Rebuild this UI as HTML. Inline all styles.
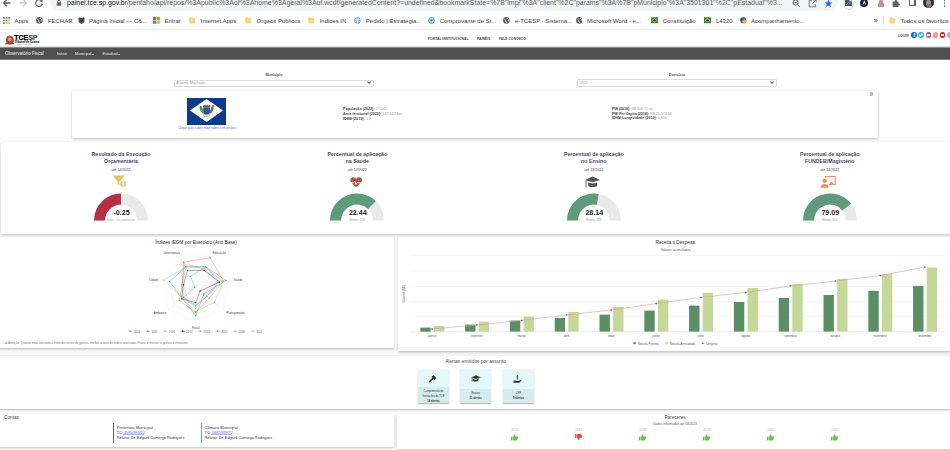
<!DOCTYPE html>
<html><head><meta charset="utf-8">
<style>
*{margin:0;padding:0;box-sizing:border-box}
html,body{width:950px;height:450px;overflow:hidden;background:#fff;font-family:"Liberation Sans",sans-serif;position:relative}
.a{position:absolute;white-space:nowrap;line-height:1}
.c{position:absolute;white-space:nowrap;line-height:1;transform:translateX(-50%)}
.card{position:absolute;background:#fff;box-shadow:0 1px 3px rgba(0,0,0,.27);border-radius:1.2px}
.bm{position:absolute;top:17.6px;font-size:6px;color:#3c4043;line-height:1}
.fold{position:absolute;top:17.2px;width:6px;height:6.3px;background:#f8d775;border-radius:0.8px}
</style></head><body>
<div class="a" style="left:0;top:348px;width:950px;height:8px;background:#f8f8f8"></div>
<!-- ============ BROWSER CHROME ============ -->
<div class="a" style="left:0;top:0;width:950px;height:29px;background:#fff"></div>
<!-- back / fwd / reload -->
<svg class="a" style="left:2px;top:-2px" width="10" height="10" viewBox="0 0 10 10"><path d="M8.5 5H2.2M5 1.6L1.6 5 5 8.4" stroke="#5f6368" stroke-width="1.3" fill="none"/></svg>
<svg class="a" style="left:18px;top:-2px" width="10" height="10" viewBox="0 0 10 10"><path d="M1.5 5H7.8M5 1.6L8.4 5 5 8.4" stroke="#c4c7cb" stroke-width="1.3" fill="none"/></svg>
<svg class="a" style="left:34px;top:-2px" width="10" height="10" viewBox="0 0 10 10"><path d="M8 3.2A3.4 3.4 0 1 0 8.4 6" stroke="#5f6368" stroke-width="1.2" fill="none"/><path d="M8.6 0.8V3.8H5.6z" fill="#5f6368"/></svg>
<!-- omnibox -->
<div class="a" style="left:49.5px;top:-12px;width:788px;height:23.1px;background:#f1f3f4;border-radius:11px"></div>
<svg class="a" style="left:56px;top:0px" width="6" height="6" viewBox="0 0 6 6"><rect x="0.8" y="2.3" width="4.4" height="3.4" rx=".5" fill="#5f6368"/><path d="M1.8 2.5V1.6a1.2 1.2 0 0 1 2.4 0v.9" stroke="#5f6368" stroke-width=".8" fill="none"/></svg>
<div class="a" style="left:67px;top:-0.5px;font-size:6.96px;color:#5f6368;letter-spacing:0"><span style="color:#202124">painel.tce.sp.gov.br</span>/pentaho/api/repos/%3Apublic%3Aof%3Ahome%3Ageral%3Aof.wcdf/generatedContent?=undefined&amp;bookmarkState=%7B"impl"%3A"client"%2C"params"%3A%7B"pMunicipio"%3A"3501301"%2C"pEstadual"%3...</div>
<!-- omnibox right icons -->
<svg class="a" style="left:792px;top:-1px" width="9" height="9" viewBox="0 0 9 9"><circle cx="3.6" cy="3.6" r="2.6" stroke="#5f6368" stroke-width="1" fill="none"/><path d="M5.5 5.5L8 8M2.4 3.6h2.4" stroke="#5f6368" stroke-width="1"/></svg>
<svg class="a" style="left:808px;top:-1.5px" width="9" height="9" viewBox="0 0 9 9"><path d="M4 1.6H1.2V7.8H7.4V5.2M4.2 4.8L7.8 1.2M5.4 1H8V3.6" stroke="#5f6368" stroke-width=".85" fill="none"/></svg>
<svg class="a" style="left:824px;top:-1.5px" width="9" height="9" viewBox="0 0 10 10"><path d="M5 0.6l1.3 2.9 3.1.3-2.4 2.1.7 3.1L5 7.4 2.3 9l.7-3.1L.6 3.8l3.1-.3z" fill="#1a73e8"/></svg>
<!-- extensions -->
<div class="a" style="left:842.6px;top:-1.6px;width:11.4px;height:12px;border-radius:50%;border:0.8px solid #dadce0;background:#fff"></div>
<svg class="a" style="left:844.6px;top:-1px" width="7.5" height="7" viewBox="0 0 7.5 7"><rect x="0" y="0" width="7.5" height="7" fill="#3f5670"/><path d="M1 6.2L3.5 3.6 5 4.6 7 2.2" stroke="#9ab" stroke-width=".7" fill="none"/><rect x="4.4" y="0" width="3.1" height="2.4" fill="#dde"/></svg>
<div class="a" style="left:860.3px;top:-1.2px;width:7.8px;height:8px;border-radius:50%;background:#14213d"></div>
<svg class="a" style="left:861.9px;top:0.2px" width="4.6" height="5" viewBox="0 0 4.6 5"><path d="M2.3.3L.5 4.6H1.5L2.3 2.6 3.1 4.6H4.1Z" fill="#fff"/></svg>
<div class="a" style="left:878.6px;top:-0.5px;width:4.8px;height:3.4px;background:#d98aa5;border-radius:1px 1px 0 0"></div>
<div class="a" style="left:878.1px;top:2.9px;width:5.6px;height:3.8px;background:#9aa1a8;border-radius:0 0 .8px .8px"></div>
<svg class="a" style="left:892.2px;top:-1.4px" width="8.5" height="8.5" viewBox="0 0 8.5 8.5"><path d="M.6 2.6H2.8V2.1A1.1 1.1 0 0 1 5 2.1V2.6H6.4V4.4H6.9A1.1 1.1 0 0 1 6.9 6.6H6.4V8H.6Z" fill="#5f6368"/></svg>
<div class="a" style="left:908.8px;top:-1px;width:7px;height:7.4px;border:0.9px solid #5f6368;border-right-width:2.4px;border-radius:.6px"></div>
<div class="a" style="left:922.9px;top:-2.6px;width:10.9px;height:10.9px;border-radius:50%;background:#3b302b;overflow:hidden"><div style="position:absolute;left:3.2px;top:2.4px;width:4.6px;height:6.5px;border-radius:50%;background:#a88f80"></div><div style="position:absolute;left:3.8px;top:6.6px;width:4.5px;height:4.5px;background:#777"></div></div>
<div class="a" style="left:943.9px;top:-0.8px;width:1.5px;height:1.5px;background:#5f6368;border-radius:50%;box-shadow:0 3px 0 #5f6368,0 6px 0 #5f6368"></div>
<!-- bookmarks bar -->
<svg class="a" style="left:2.8px;top:16.8px" width="7" height="7" viewBox="0 0 7 7"><rect x="0" y="0" width="1.7" height="1.7" fill="#ea4335"/><rect x="2.65" y="0" width="1.7" height="1.7" fill="#ea4335"/><rect x="5.3" y="0" width="1.7" height="1.7" fill="#ea4335"/><rect x="0" y="2.65" width="1.7" height="1.7" fill="#34a853"/><rect x="2.65" y="2.65" width="1.7" height="1.7" fill="#4285f4"/><rect x="5.3" y="2.65" width="1.7" height="1.7" fill="#fbbc05"/><rect x="0" y="5.3" width="1.7" height="1.7" fill="#34a853"/><rect x="2.65" y="5.3" width="1.7" height="1.7" fill="#fbbc05"/><rect x="5.3" y="5.3" width="1.7" height="1.7" fill="#fbbc05"/></svg>
<div class="bm" style="left:14.5px">Apps</div>
<svg class="a" style="left:36.3px;top:17px" width="6.8" height="6.8" viewBox="0 0 7 7"><circle cx="3.5" cy="3.5" r="3.4" fill="#5f6368"/><path d="M1.3 2.2c1 .2 1.6.9 1.4 1.6-.2.6.6 1 .9 1.5.2.4-.1.9-.3 1.2M4.6.6c-.3.6.1 1 .6 1.2.6.2.6.8.3 1.2-.4.6.3 1 .9.9" stroke="#fff" stroke-width=".7" fill="none"/></svg>
<div class="bm" style="left:47.8px">FECHAR</div>
<svg class="a" style="left:78.2px;top:16.8px" width="7" height="7.2" viewBox="0 0 7 7.2"><path d="M.3 1.2L1.5.3 3.5 1 5.5.3 6.7 1.2 6.3 5 3.5 7 .7 5Z" fill="#6b4a3a"/><path d="M2 2h3v2.4L3.5 5.4 2 4.4Z" fill="#2a3e7a"/><path d="M.8 5.2L3.5 6.6 6.2 5.2" stroke="#3a8a3a" stroke-width=".6" fill="none"/></svg>
<div class="bm" style="left:89px">Página Inicial — C&amp;...</div>
<svg class="a" style="left:152.8px;top:17px" width="6.8" height="6.8" viewBox="0 0 6 6"><rect x="0" y="0" width="2.8" height="2.8" fill="#f25022"/><rect x="3.2" y="0" width="2.8" height="2.8" fill="#7fba00"/><rect x="0" y="3.2" width="2.8" height="2.8" fill="#00a4ef"/><rect x="3.2" y="3.2" width="2.8" height="2.8" fill="#ffb900"/></svg>
<div class="bm" style="left:164.5px">Entrar</div>
<svg class="a" style="left:188.6px;top:17.1px" width="6.8" height="6.6" viewBox="0 0 6.8 6.6"><path d="M.2 .9C.2.5.5.2.9.2H2.6L3.3 1H5.9C6.3 1 6.6 1.3 6.6 1.7V5.8C6.6 6.2 6.3 6.4 5.9 6.4H.9C.5 6.4.2 6.2.2 5.8Z" fill="#f8d775"/></svg>
<div class="bm" style="left:200.8px">Internet Apps</div>
<svg class="a" style="left:244.6px;top:17.1px" width="6.8" height="6.6" viewBox="0 0 6.8 6.6"><path d="M.2 .9C.2.5.5.2.9.2H2.6L3.3 1H5.9C6.3 1 6.6 1.3 6.6 1.7V5.8C6.6 6.2 6.3 6.4 5.9 6.4H.9C.5 6.4.2 6.2.2 5.8Z" fill="#f8d775"/></svg>
<div class="bm" style="left:256.6px">Orgaos Publicos</div>
<svg class="a" style="left:307.6px;top:17.1px" width="6.8" height="6.6" viewBox="0 0 6.8 6.6"><path d="M.2 .9C.2.5.5.2.9.2H2.6L3.3 1H5.9C6.3 1 6.6 1.3 6.6 1.7V5.8C6.6 6.2 6.3 6.4 5.9 6.4H.9C.5 6.4.2 6.2.2 5.8Z" fill="#f8d775"/></svg>
<div class="bm" style="left:319.7px">Indices IN</div>
<svg class="a" style="left:354.3px;top:17px" width="6.8" height="6.8" viewBox="0 0 7 7"><circle cx="3.5" cy="3.5" r="3.3" fill="#6aa5e8"/><path d="M1 2.6H6M1 4.4H6M2.6 .8L3.5 6.2M4.4 .8L3.5 6.2" stroke="#fff" stroke-width=".55"/></svg>
<div class="bm" style="left:365.8px">Pedido | Estratégia...</div>
<svg class="a" style="left:428px;top:17px" width="6.8" height="6.8" viewBox="0 0 7 7"><circle cx="3.5" cy="3.5" r="3" fill="#fff" stroke="#2a8be0" stroke-width=".9"/><path d="M3.5 1.3V5.7M1.6 2.4L5.4 4.6M1.6 4.6L5.4 2.4" stroke="#2a8be0" stroke-width=".8"/></svg>
<div class="bm" style="left:439.7px">Comprovante de Si...</div>
<svg class="a" style="left:503.1px;top:17px" width="6.8" height="6.8" viewBox="0 0 7 7"><circle cx="3.5" cy="3.5" r="3.4" fill="#5f6368"/><path d="M1.3 2.2c1 .2 1.6.9 1.4 1.6-.2.6.6 1 .9 1.5.2.4-.1.9-.3 1.2M4.6.6c-.3.6.1 1 .6 1.2.6.2.6.8.3 1.2-.4.6.3 1 .9.9" stroke="#fff" stroke-width=".7" fill="none"/></svg>
<div class="bm" style="left:514.8px">e-TCESP - Sistema...</div>
<svg class="a" style="left:575.5px;top:17px" width="6.8" height="6.8" viewBox="0 0 7 7"><circle cx="3.5" cy="3.5" r="3.4" fill="#5f6368"/><path d="M1.3 2.2c1 .2 1.6.9 1.4 1.6-.2.6.6 1 .9 1.5.2.4-.1.9-.3 1.2M4.6.6c-.3.6.1 1 .6 1.2.6.2.6.8.3 1.2-.4.6.3 1 .9.9" stroke="#fff" stroke-width=".7" fill="none"/></svg>
<div class="bm" style="left:587px">Microsoft Word - e...</div>
<svg class="a" style="left:650.8px;top:17.2px" width="7" height="6.4" viewBox="0 0 7 6.4"><rect x="0" y=".2" width="7" height="6" fill="#2a8a3a"/><path d="M3.5.9L6.4 3.2 3.5 5.5.6 3.2Z" fill="#f0c020"/><circle cx="3.5" cy="3.2" r="1.2" fill="#24408e"/></svg>
<div class="bm" style="left:662.7px">Constituição</div>
<svg class="a" style="left:704px;top:17.2px" width="7" height="6.4" viewBox="0 0 7 6.4"><rect x="0" y=".2" width="7" height="6" fill="#2a8a3a"/><path d="M3.5.9L6.4 3.2 3.5 5.5.6 3.2Z" fill="#f0c020"/><circle cx="3.5" cy="3.2" r="1.2" fill="#24408e"/></svg>
<div class="bm" style="left:715.9px">L4320</div>
<svg class="a" style="left:740.2px;top:17px" width="7" height="7" viewBox="0 0 7 7"><circle cx="3.2" cy="3.2" r="3" fill="#3a4aa0"/><circle cx="4.4" cy="4.4" r="2.2" fill="#e8b820"/></svg>
<div class="bm" style="left:751px">Acompanhamento...</div>
<div class="bm" style="left:873.8px;top:16.9px;font-size:7.5px;font-weight:bold;color:#5f6368">»</div>
<div class="a" style="left:883px;top:16px;width:0.7px;height:8.5px;background:#dadce0"></div>
<svg class="a" style="left:888.6px;top:17.1px" width="6.8" height="6.6" viewBox="0 0 6.8 6.6"><path d="M.2 .9C.2.5.5.2.9.2H2.6L3.3 1H5.9C6.3 1 6.6 1.3 6.6 1.7V5.8C6.6 6.2 6.3 6.4 5.9 6.4H.9C.5 6.4.2 6.2.2 5.8Z" fill="#f8d775"/></svg>
<div class="bm" style="left:900.4px">Todos os favoritos</div>
<div class="a" style="left:0;top:29px;width:950px;height:1px;background:#edefee"></div>

<!-- ============ PAGE HEADER ============ -->
<svg class="a" style="left:4.8px;top:33.5px" width="9.5" height="11.5" viewBox="0 0 10 12"><path d="M5 0.3l0.7 1.2h-1.4z" fill="#aaa"/><ellipse cx="5" cy="6.3" rx="4.4" ry="4.6" fill="#3c9a4a"/><path d="M2 2.5h6v5.2c0 1.6-1.4 2.6-3 3.1-1.6-.5-3-1.5-3-3.1z" fill="#d42a2a"/><path d="M3.3 3.5h3.4v3.2l-1.7 1.4-1.7-1.4z" fill="#eee" opacity=".55"/><path d="M0.3 9.5h9.4v1.3H0.3z" fill="#d42a2a"/></svg>
<div class="a" style="left:14.3px;top:35.1px;font-size:7.1px;font-weight:bold;color:#000;letter-spacing:-0.1px;-webkit-text-stroke:0.25px #000">TCE<span style="color:#555;-webkit-text-stroke:0.25px #555">SP</span></div>
<div class="a" style="left:14.8px;top:41.9px;font-size:2.7px;font-weight:bold;color:#333;-webkit-text-stroke:0.1px #333">Tribunal de Contas</div>
<div class="a" style="left:17px;top:44.2px;font-size:1.3px;color:#666">do Estado de São Paulo</div>
<div class="a" style="left:427.8px;top:38.4px;font-size:3.4px;font-weight:bold;color:#4a4a4a">PORTAL INSTITUCIONAL</div>
<div class="a" style="left:477px;top:38.4px;font-size:3.4px;font-weight:bold;color:#4a4a4a">PAINÉIS</div>
<div class="a" style="left:498.8px;top:38.4px;font-size:3.4px;font-weight:bold;color:#4a4a4a">FALE CONOSCO</div>
<div class="a" style="left:897.9px;top:34.5px;font-size:3.4px;font-weight:bold;color:#555">LOGIN</div>
<div class="a" style="left:911.2px;top:32.1px;width:5.6px;height:5.6px;border-radius:50%;background:#1d6bb3"></div>
<div class="a" style="left:913.4px;top:32.9px;font-size:5px;font-weight:bold;color:#fff">f</div>
<div class="a" style="left:918.3px;top:32.1px;width:5.6px;height:5.6px;border-radius:50%;background:#24b4cf"></div>
<div class="a" style="left:925.5px;top:32.1px;width:5.6px;height:5.6px;border-radius:50%;background:linear-gradient(45deg,#f6a33a,#d6306f 55%,#7a3bbf)"></div>
<div class="a" style="left:932.6px;top:32.1px;width:5.6px;height:5.6px;border-radius:50%;background:#f29061"></div>
<div class="a" style="left:939.8px;top:32.1px;width:5.6px;height:5.6px;border-radius:50%;background:#f20d0d"></div>
<div class="a" style="left:941.2px;top:34.1px;width:2.8px;height:1.6px;border-radius:.5px;background:#fff"></div>
<div class="a" style="left:947px;top:32.1px;width:5.6px;height:5.6px;border-radius:50%;background:#9bb5e0"></div>
<svg class="a" style="left:918.3px;top:32.1px" width="5.6" height="5.6" viewBox="0 0 6 6"><path d="M1.4 2.2c.6.5 1.2.8 1.9.8-.2-.9.6-1.6 1.4-1.2l.6-.2-.3.6c0 1.6-1.3 2.9-3 2.6-.4 0-.8-.2-1.1-.4.5 0 .9-.1 1.2-.4-.4 0-.7-.3-.8-.6h.4c-.4-.2-.6-.5-.6-.9l.4.1c-.3-.3-.4-.7-.1-1z" fill="#fff"/></svg>
<div class="a" style="left:926.9px;top:33.5px;width:2.8px;height:2.8px;border:0.45px solid #fff;border-radius:0.8px"></div>
<div class="a" style="left:927.85px;top:34.45px;width:0.9px;height:0.9px;border:0.35px solid #fff;border-radius:50%"></div>
<svg class="a" style="left:932.6px;top:32.1px" width="5.6" height="5.6" viewBox="0 0 6 6"><circle cx="2" cy="4" r=".5" fill="#fff" opacity=".8"/><path d="M1.6 2.6a1.8 1.8 0 0 1 1.8 1.8M1.6 1.5a2.9 2.9 0 0 1 2.9 2.9" stroke="#fff" stroke-width=".5" fill="none" opacity=".8"/></svg>
<!-- ============ NAV ============ -->
<div class="a" style="left:0;top:46px;width:950px;height:1px;background:#e2e2e2"></div><div class="a" style="left:0;top:47px;width:950px;height:1px;background:#8e8e8e"></div><div class="a" style="left:0;top:48px;width:950px;height:11px;background:#505050"></div><div class="a" style="left:0;top:59px;width:950px;height:1px;background:#7c7c7c"></div>
<div class="a" style="left:5px;top:51.6px;font-size:4.5px;color:#eef">Observatório Fiscal</div>
<div class="a" style="left:57px;top:51.8px;font-size:4.1px;color:#eef">Início</div>
<div class="a" style="left:75px;top:51.8px;font-size:3.9px;color:#eef">Municipal</div>
<div class="a" style="left:92px;top:53.6px;width:0;height:0;border-left:1.1px solid transparent;border-right:1.1px solid transparent;border-top:1.3px solid #eef"></div>
<div class="a" style="left:102.5px;top:51.8px;font-size:3.9px;color:#eef">Estadual</div>
<div class="a" style="left:118px;top:53.6px;width:0;height:0;border-left:1.1px solid transparent;border-right:1.1px solid transparent;border-top:1.3px solid #eef"></div>
<!-- ============ SELECTS ============ -->
<div class="c" style="left:274px;top:74.3px;font-size:3.7px;font-weight:bold;color:#555">Município</div>
<div class="a" style="left:174px;top:79.5px;width:200px;height:7.4px;border:0.8px solid #dcdcdc;border-radius:1px;background:#fff"></div>
<div class="a" style="left:176px;top:82.4px;font-size:3.8px;color:#999">Alvares Machado</div>
<svg class="a" style="left:367px;top:81.2px" width="4" height="3.5" viewBox="0 0 4 3.5"><path d="M0.4 0.6L2 2.4 3.6 0.6" stroke="#333" stroke-width="1" fill="none"/></svg>
<div class="c" style="left:677px;top:74px;font-size:3.7px;font-weight:bold;color:#555">Exercício</div>
<div class="a" style="left:577px;top:79.3px;width:199.5px;height:7.3px;border:0.8px solid #dcdcdc;border-radius:1px;background:#fff"></div>
<div class="a" style="left:579.8px;top:82.4px;font-size:3.6px;color:#999">2022</div>
<svg class="a" style="left:769.5px;top:81.2px" width="4" height="3.5" viewBox="0 0 4 3.5"><path d="M0.4 0.6L2 2.4 3.6 0.6" stroke="#333" stroke-width="1" fill="none"/></svg>
<!-- ============ MUNICIPALITY CARD ============ -->
<div class="card" style="left:72px;top:90.7px;width:805.8px;height:47.2px;border-radius:1px"></div>
<div class="a" style="left:187.3px;top:98px;width:38.5px;height:26.7px;background:#0e3a8c"></div>
<svg class="a" style="left:187.3px;top:98px" width="38.5" height="26.7" viewBox="0 0 38.5 26.7"><path d="M3 12.4L19.6 0.9 36 12.4 19.6 24z" fill="#fff"/><path d="M16 9.4V7.4H17.2V6.8H18.4V7.4H19.6V6.8H20.8V7.4H22V6.8H23.2V9.4Z" fill="#7a5040"/><path d="M16.2 9.4H23V14.2C23 15.6 21.6 16.4 19.6 16.6 17.6 16.4 16.2 15.6 16.2 14.2Z" fill="#2d4f9e"/><path d="M17.2 10.6H22M17.2 12.6H22" stroke="#4a6ab8" stroke-width=".4"/><path d="M13 7.4C12 10 12.8 13.6 16.4 15.8L16.6 13.8C15.8 12.6 15.6 10.4 14.8 8.6Z" fill="#3aa03a"/><circle cx="14.8" cy="12.6" r=".6" fill="#d8c840"/><path d="M26.3 7.4C27.3 10 26.5 13.6 22.9 15.8L22.7 13.8C23.5 12.6 23.7 10.4 24.5 8.6Z" fill="#6a6a6a"/><path d="M25 7.2h1.6v2h-1.6z" fill="#d05050"/><path d="M16.4 16.9H23" stroke="#8ab040" stroke-width=".9"/><path d="M17 18.7H22.4" stroke="#d06060" stroke-width=".6"/><path d="M13.6 16.8l.6-.8M25.6 16.8l-.6-.8" stroke="#888" stroke-width=".4"/></svg>
<div class="a" style="left:178px;top:127px;font-size:3.13px;color:#6c6cf0">Clique para saber mais sobre o município</div>
<div class="a" style="left:343px;top:106.9px;font-size:3.7px;color:#999;line-height:1.3"><b style="color:#444">População (2022):</b> 27.241<br><b style="color:#444">Área territorial (2020):</b> 347,647 km²<br><b style="color:#444">IDEB (2019):</b> 5,9</div>
<div class="a" style="left:611.9px;top:106.9px;font-size:3.6px;color:#999;line-height:1.3"><b style="color:#444">PIB (2018):</b> R$ 509,72 mi<br><b style="color:#444">PIB Per Capita (2018):</b> R$ 21.374,06<br><b style="color:#444">IDHM Longevidade (2010):</b> 0,816</div>
<div class="a" style="left:869.7px;top:92.4px;width:3.8px;height:3.8px;border-radius:50%;background:#aaa"></div><div class="a" style="left:871.1px;top:93.8px;width:1px;height:1px;border-radius:50%;background:#ddd"></div>

<!-- ============ KPI ROW ============ -->
<div class="card" style="left:1px;top:141.5px;width:960px;height:92.4px"></div>
<div class="c" style="left:121px;top:150.7px;font-size:5.26px;font-weight:bold;color:#4b4b68;text-align:center;line-height:7.2px">Resultado da Execução<br>Orçamentária</div>
<div class="c" style="left:121px;top:169.2px;font-size:3.6px;color:#444">até 12/2022</div>
<svg class="a" style="left:91px;top:192px" width="60" height="30" viewBox="0 0 60 30"><path d="M3.00 28.50A27 27 0 0 1 57.00 28.50L46.00 28.50A16 16 0 0 0 14.00 28.50Z" fill="#e9e9e9"/><path d="M3.00 28.50A27 27 0 0 1 30.00 1.50L30.00 12.50A16 16 0 0 0 14.00 28.50Z" fill="#b82e42"/></svg>
<div class="c" style="left:121.5px;top:210.3px;font-size:7.1px;font-weight:bold;color:#222">-0.25</div>
<div class="c" style="left:121px;top:219.4px;font-size:3.1px;color:#aaa">Exec. Orçamentária</div>
<div class="c" style="left:357.3px;top:150.7px;font-size:5.26px;font-weight:bold;color:#4b4b68;text-align:center;line-height:7.2px">Percentual de aplicação<br>na Saúde</div>
<div class="c" style="left:357.3px;top:169.2px;font-size:3.6px;color:#444">até 12/2022</div>
<svg class="a" style="left:327.3px;top:192px" width="60" height="30" viewBox="0 0 60 30"><path d="M3.00 28.50A27 27 0 0 1 57.00 28.50L46.00 28.50A16 16 0 0 0 14.00 28.50Z" fill="#e9e9e9"/><path d="M3.00 28.50A27 27 0 0 1 48.76 9.08L41.11 16.99A16 16 0 0 0 14.00 28.50Z" fill="#5f9a7b"/></svg>
<div class="c" style="left:357.8px;top:210.3px;font-size:7.1px;font-weight:bold;color:#222">22.44</div>
<div class="c" style="left:357.3px;top:219.6px;font-size:2.7px;color:#999">Mínimo: 15%</div>
<div class="c" style="left:593.8px;top:150.7px;font-size:5.26px;font-weight:bold;color:#4b4b68;text-align:center;line-height:7.2px">Percentual de aplicação<br>no Ensino</div>
<div class="c" style="left:593.8px;top:169.2px;font-size:3.6px;color:#444">até 12/2022</div>
<svg class="a" style="left:563.8px;top:192px" width="60" height="30" viewBox="0 0 60 30"><path d="M3.00 28.50A27 27 0 0 1 57.00 28.50L46.00 28.50A16 16 0 0 0 14.00 28.50Z" fill="#e9e9e9"/><path d="M3.00 28.50A27 27 0 0 1 34.69 1.91L32.78 12.74A16 16 0 0 0 14.00 28.50Z" fill="#5f9a7b"/></svg>
<div class="c" style="left:594.3px;top:210.3px;font-size:7.1px;font-weight:bold;color:#222">28.14</div>
<div class="c" style="left:593.8px;top:219.6px;font-size:2.7px;color:#999">Mínimo: 25%</div>
<div class="c" style="left:829.8px;top:150.7px;font-size:5.26px;font-weight:bold;color:#4b4b68;text-align:center;line-height:7.2px">Percentual de aplicação<br>FUNDEB/Magistério</div>
<div class="c" style="left:829.8px;top:169.2px;font-size:3.6px;color:#444">até 12/2022</div>
<svg class="a" style="left:799.8px;top:192px" width="60" height="30" viewBox="0 0 60 30"><path d="M3.00 28.50A27 27 0 0 1 57.00 28.50L46.00 28.50A16 16 0 0 0 14.00 28.50Z" fill="#e9e9e9"/><path d="M3.00 28.50A27 27 0 0 1 50.98 11.51L42.43 18.43A16 16 0 0 0 14.00 28.50Z" fill="#5f9a7b"/></svg>
<div class="c" style="left:830.3px;top:210.3px;font-size:7.1px;font-weight:bold;color:#222">79.09</div>
<div class="c" style="left:829.8px;top:219.6px;font-size:2.7px;color:#999">Mínimo: 60%</div>
<svg class="a" style="left:108px;top:172px" width="26" height="20" viewBox="0 0 26 20"><path d="M4.9 3.5H17L11.1 10V13.3L9.7 12.7V10Z" fill="#dcc56e"/><circle cx="15.1" cy="11.8" r="3.5" fill="#dcc56e" stroke="#fff" stroke-width=".8"/><path d="M16.2 10.2c-.4-.4-2.2-.6-2.2.5 0 1.1 2.3.7 2.3 1.9 0 1.1-1.9 1-2.4.5M15.1 9.2v5.2" stroke="#fff" stroke-width=".7" fill="none"/></svg>
<svg class="a" style="left:350px;top:176.5px" width="12.4" height="10.6" viewBox="0 0 12.4 10.6"><path d="M6.2 10.4L1.2 5.4C-.4 3.6.4.6 2.9.3 4.4.1 5.6.9 6.2 1.9 6.8.9 8 .1 9.5.3 12 .6 12.8 3.6 11.2 5.4Z" fill="#a9573f"/><path d="M0 5.7H3.6L4.6 4 6.1 7.5 7.2 5.3 7.7 5.7H12.4" stroke="#fff" stroke-width=".9" fill="none"/></svg>
<svg class="a" style="left:584px;top:175.5px" width="17" height="12" viewBox="0 0 17 12"><path d="M.8 3.9L8.5.6 16.1 3.9 8.5 6.2Z" fill="#555"/><path d="M4.2 6.4L8.5 7.6 13.1 6.4V10C11.8 11.3 5.5 11.3 4.2 10Z" fill="#555"/><path d="M2 4.2V11.2" stroke="#555" stroke-width=".9"/></svg>
<svg class="a" style="left:820px;top:175px" width="17" height="13" viewBox="0 0 17 13"><path d="M5.6 3.3V1.45H15.25V9.35H8.9" stroke="#e9916a" stroke-width="1.1" fill="none"/><rect x="10" y="7.2" width="2.9" height="2.7" fill="#e9916a"/><circle cx="4.7" cy="5.7" r="2.2" fill="#e9916a"/><path d="M.9 12.8V11C.9 9.7 2.5 9 4.65 9S8.4 9.7 8.4 11V12.8Z" fill="#e9916a"/></svg>

<!-- ============ RADAR CARD ============ -->
<div class="card" style="left:-4px;top:237px;width:398px;height:111px"></div>
<div class="c" style="left:196px;top:241.3px;font-size:4.7px;color:#2a2a2a">Índices IEGM por Exercício (Ano Base)</div>
<svg class="a" style="left:0;top:0" width="400" height="350" viewBox="0 0 400 350"><polygon points="195.70,294.46 190.26,291.84 188.91,285.95 192.68,281.23 198.72,281.23 202.49,285.95 201.14,291.84" fill="none" stroke="#ececec" stroke-width="0.4"/><polygon points="195.70,301.42 184.82,296.18 182.13,284.40 189.66,274.96 201.74,274.96 209.27,284.40 206.58,296.18" fill="none" stroke="#ececec" stroke-width="0.4"/><polygon points="195.70,308.38 179.38,300.52 175.34,282.85 186.64,268.69 204.76,268.69 216.06,282.85 212.02,300.52" fill="none" stroke="#ececec" stroke-width="0.4"/><polygon points="195.70,315.34 173.93,304.86 168.56,281.31 183.62,262.42 207.78,262.42 222.84,281.31 217.47,304.86" fill="none" stroke="#ececec" stroke-width="0.4"/><polygon points="195.70,322.30 168.49,309.20 161.77,279.76 180.60,256.15 210.80,256.15 229.63,279.76 222.91,309.20" fill="none" stroke="#ececec" stroke-width="0.4"/><line x1="195.7" y1="287.5" x2="195.70" y2="322.30" stroke="#ececec" stroke-width="0.4"/><line x1="195.7" y1="287.5" x2="168.49" y2="309.20" stroke="#ececec" stroke-width="0.4"/><line x1="195.7" y1="287.5" x2="161.77" y2="279.76" stroke="#ececec" stroke-width="0.4"/><line x1="195.7" y1="287.5" x2="180.60" y2="256.15" stroke="#ececec" stroke-width="0.4"/><line x1="195.7" y1="287.5" x2="210.80" y2="256.15" stroke="#ececec" stroke-width="0.4"/><line x1="195.7" y1="287.5" x2="229.63" y2="279.76" stroke="#ececec" stroke-width="0.4"/><line x1="195.7" y1="287.5" x2="222.91" y2="309.20" stroke="#ececec" stroke-width="0.4"/><polygon points="195.70,306.64 186.18,295.09 183.83,284.79 183.47,262.10 204.00,270.26 216.06,282.85 203.86,294.01" fill="none" stroke="#f4b8b8" stroke-width="0.45"/><circle cx="195.70" cy="306.64" r="0.7" fill="#f4b8b8"/><circle cx="186.18" cy="295.09" r="0.7" fill="#f4b8b8"/><circle cx="183.83" cy="284.79" r="0.7" fill="#f4b8b8"/><circle cx="183.47" cy="262.10" r="0.7" fill="#f4b8b8"/><circle cx="204.00" cy="270.26" r="0.7" fill="#f4b8b8"/><circle cx="216.06" cy="282.85" r="0.7" fill="#f4b8b8"/><circle cx="203.86" cy="294.01" r="0.7" fill="#f4b8b8"/><polygon points="195.70,308.38 183.46,297.26 182.13,284.40 184.38,263.98 204.76,268.69 217.75,282.47 206.58,296.18" fill="none" stroke="#f2b28a" stroke-width="0.45"/><circle cx="195.70" cy="308.38" r="0.7" fill="#f2b28a"/><circle cx="183.46" cy="297.26" r="0.7" fill="#f2b28a"/><circle cx="182.13" cy="284.40" r="0.7" fill="#f2b28a"/><circle cx="184.38" cy="263.98" r="0.7" fill="#f2b28a"/><circle cx="204.76" cy="268.69" r="0.7" fill="#f2b28a"/><circle cx="217.75" cy="282.47" r="0.7" fill="#f2b28a"/><circle cx="206.58" cy="296.18" r="0.7" fill="#f2b28a"/><polygon points="195.70,305.25 183.46,297.26 194.68,287.27 190.42,276.53 205.67,266.81 219.45,282.08 206.86,296.40" fill="none" stroke="#4cb596" stroke-width="0.45"/><circle cx="195.70" cy="305.25" r="0.7" fill="#4cb596"/><circle cx="183.46" cy="297.26" r="0.7" fill="#4cb596"/><circle cx="194.68" cy="287.27" r="0.7" fill="#4cb596"/><circle cx="190.42" cy="276.53" r="0.7" fill="#4cb596"/><circle cx="205.67" cy="266.81" r="0.7" fill="#4cb596"/><circle cx="219.45" cy="282.08" r="0.7" fill="#4cb596"/><circle cx="206.86" cy="296.40" r="0.7" fill="#4cb596"/><polygon points="195.70,305.94 182.10,298.35 182.13,284.40 185.73,266.81 205.67,266.81 222.16,281.46 206.86,296.40" fill="none" stroke="#55cde6" stroke-width="0.45"/><circle cx="195.70" cy="305.94" r="0.7" fill="#55cde6"/><circle cx="182.10" cy="298.35" r="0.7" fill="#55cde6"/><circle cx="182.13" cy="284.40" r="0.7" fill="#55cde6"/><circle cx="185.73" cy="266.81" r="0.7" fill="#55cde6"/><circle cx="205.67" cy="266.81" r="0.7" fill="#55cde6"/><circle cx="222.16" cy="281.46" r="0.7" fill="#55cde6"/><circle cx="206.86" cy="296.40" r="0.7" fill="#55cde6"/><polygon points="195.70,302.81 181.55,298.78 183.49,284.71 187.55,270.57 204.00,270.26 219.45,282.08 200.05,290.97" fill="none" stroke="#404040" stroke-width="0.45"/><circle cx="195.70" cy="302.81" r="0.7" fill="#404040"/><circle cx="181.55" cy="298.78" r="0.7" fill="#404040"/><circle cx="183.49" cy="284.71" r="0.7" fill="#404040"/><circle cx="187.55" cy="270.57" r="0.7" fill="#404040"/><circle cx="204.00" cy="270.26" r="0.7" fill="#404040"/><circle cx="219.45" cy="282.08" r="0.7" fill="#404040"/><circle cx="200.05" cy="290.97" r="0.7" fill="#404040"/><polygon points="195.70,311.51 182.10,298.35 163.81,280.22 185.89,267.12 205.51,267.12 222.84,281.31 214.47,302.47" fill="none" stroke="#a9cf7f" stroke-width="0.45"/><circle cx="195.70" cy="311.51" r="0.7" fill="#a9cf7f"/><circle cx="182.10" cy="298.35" r="0.7" fill="#a9cf7f"/><circle cx="163.81" cy="280.22" r="0.7" fill="#a9cf7f"/><circle cx="185.89" cy="267.12" r="0.7" fill="#a9cf7f"/><circle cx="205.51" cy="267.12" r="0.7" fill="#a9cf7f"/><circle cx="222.84" cy="281.31" r="0.7" fill="#a9cf7f"/><circle cx="214.47" cy="302.47" r="0.7" fill="#a9cf7f"/><polygon points="195.70,315.69 182.10,298.35 169.58,281.54 185.73,266.81 205.67,266.81 226.23,280.53 203.86,294.01" fill="none" stroke="#5b8fd6" stroke-width="0.45"/><circle cx="195.70" cy="315.69" r="0.7" fill="#5b8fd6"/><circle cx="182.10" cy="298.35" r="0.7" fill="#5b8fd6"/><circle cx="169.58" cy="281.54" r="0.7" fill="#5b8fd6"/><circle cx="185.73" cy="266.81" r="0.7" fill="#5b8fd6"/><circle cx="205.67" cy="266.81" r="0.7" fill="#5b8fd6"/><circle cx="226.23" cy="280.53" r="0.7" fill="#5b8fd6"/><circle cx="203.86" cy="294.01" r="0.7" fill="#5b8fd6"/><polygon points="195.70,312.56 179.38,300.52 182.13,284.40 183.47,262.10 210.04,257.71 223.52,281.15 209.03,298.13" fill="none" stroke="#ed7d31" stroke-width="0.45"/><circle cx="195.70" cy="312.56" r="0.7" fill="#ed7d31"/><circle cx="179.38" cy="300.52" r="0.7" fill="#ed7d31"/><circle cx="182.13" cy="284.40" r="0.7" fill="#ed7d31"/><circle cx="183.47" cy="262.10" r="0.7" fill="#ed7d31"/><circle cx="210.04" cy="257.71" r="0.7" fill="#ed7d31"/><circle cx="223.52" cy="281.15" r="0.7" fill="#ed7d31"/><circle cx="209.03" cy="298.13" r="0.7" fill="#ed7d31"/></svg>
<div class="c" style="left:171.7px;top:252.2px;font-size:3px;color:#444">Governança</div>
<div class="c" style="left:219.2px;top:252.2px;font-size:3px;color:#444">Educação</div>
<div class="c" style="left:238.2px;top:279.2px;font-size:3px;color:#444">Saúde</div>
<div class="c" style="left:235.4px;top:311.8px;font-size:3px;color:#444">Planejamento</div>
<div class="c" style="left:195.8px;top:326.8px;font-size:3px;color:#444">Fiscal</div>
<div class="c" style="left:160px;top:311.8px;font-size:3px;color:#444">Ambiente</div>
<div class="c" style="left:153.7px;top:279.2px;font-size:3px;color:#444">Cidade</div>
<div class="a" style="left:133.90px;top:331.9px;font-size:2.75px;color:#555">2014</div>
<div class="a" style="left:151.38px;top:331.9px;font-size:2.75px;color:#555">2015</div>
<div class="a" style="left:168.86px;top:331.9px;font-size:2.75px;color:#555">2016</div>
<div class="a" style="left:186.34px;top:331.9px;font-size:2.75px;color:#555">2017</div>
<div class="a" style="left:203.82px;top:331.9px;font-size:2.75px;color:#555">2018</div>
<div class="a" style="left:221.30px;top:331.9px;font-size:2.75px;color:#555">2019</div>
<div class="a" style="left:238.78px;top:331.9px;font-size:2.75px;color:#555">2020</div>
<div class="a" style="left:256.26px;top:331.9px;font-size:2.75px;color:#555">2021</div>
<svg class="a" style="left:0;top:0" width="300" height="340" viewBox="0 0 300 340"><line x1="128.00" y1="331.2" x2="132.60" y2="331.2" stroke="#ed7d31" stroke-width="0.5"/><circle cx="130.30" cy="331.2" r="0.85" fill="#ed7d31"/><line x1="145.48" y1="331.2" x2="150.08" y2="331.2" stroke="#5b8fd6" stroke-width="0.5"/><circle cx="147.78" cy="331.2" r="0.85" fill="#5b8fd6"/><line x1="162.96" y1="331.2" x2="167.56" y2="331.2" stroke="#a9cf7f" stroke-width="0.5"/><circle cx="165.26" cy="331.2" r="0.85" fill="#a9cf7f"/><line x1="180.44" y1="331.2" x2="185.04" y2="331.2" stroke="#404040" stroke-width="0.5"/><circle cx="182.74" cy="331.2" r="0.85" fill="#404040"/><line x1="197.92" y1="331.2" x2="202.52" y2="331.2" stroke="#55cde6" stroke-width="0.5"/><circle cx="200.22" cy="331.2" r="0.85" fill="#55cde6"/><line x1="215.40" y1="331.2" x2="220.00" y2="331.2" stroke="#4cb596" stroke-width="0.5"/><circle cx="217.70" cy="331.2" r="0.85" fill="#4cb596"/><line x1="232.88" y1="331.2" x2="237.48" y2="331.2" stroke="#f2b28a" stroke-width="0.5"/><circle cx="235.18" cy="331.2" r="0.85" fill="#f2b28a"/><line x1="250.36" y1="331.2" x2="254.96" y2="331.2" stroke="#f4b8b8" stroke-width="0.5"/><circle cx="252.66" cy="331.2" r="0.85" fill="#f4b8b8"/></svg>
<svg class="a" style="left:3.8px;top:340.9px" width="4" height="3.5" viewBox="0 0 4 3.5"><path d="M2 0.2L3.9 3.4H0.1z" fill="#e6c000"/></svg>
<div class="a" style="left:8px;top:342.4px;font-size:3.06px;color:#777">Atenção: Quanto mais afastada a linha do centro do gráfico, melhor a nota do índice analisado. Passe o mouse, o gráfico é interativo.</div>
<!-- ============ BAR CARD ============ -->
<div class="card" style="left:398px;top:236.8px;width:556px;height:114px"></div>
<div class="c" style="left:675.2px;top:240.9px;font-size:4.7px;color:#333">Receita x Despesa</div>
<div class="c" style="left:675.5px;top:249.1px;font-size:3.3px;color:#555">Valores acumulados</div>
<svg class="a" style="left:0;top:0" width="950" height="350" viewBox="0 0 950 350"><line x1="410" y1="255.4" x2="947" y2="255.4" stroke="#ececec" stroke-width="0.5"/><line x1="410" y1="271.0" x2="947" y2="271.0" stroke="#ececec" stroke-width="0.5"/><line x1="410" y1="286.4" x2="947" y2="286.4" stroke="#ececec" stroke-width="0.5"/><line x1="410" y1="301.6" x2="947" y2="301.6" stroke="#ececec" stroke-width="0.5"/><line x1="410" y1="316.4" x2="947" y2="316.4" stroke="#ececec" stroke-width="0.5"/><line x1="410" y1="331.8" x2="947" y2="331.8" stroke="#d8dde6" stroke-width="0.6"/><rect x="420.30" y="327.6" width="10.4" height="4.00" fill="#5a8f66"/><rect x="433.90" y="326.0" width="10.4" height="5.60" fill="#c5d89a"/><rect x="465.10" y="324.6" width="10.4" height="7.00" fill="#5a8f66"/><rect x="478.70" y="321.6" width="10.4" height="10.00" fill="#c5d89a"/><rect x="509.90" y="320.6" width="10.4" height="11.00" fill="#5a8f66"/><rect x="523.50" y="316.6" width="10.4" height="15.00" fill="#c5d89a"/><rect x="554.70" y="318.0" width="10.4" height="13.60" fill="#5a8f66"/><rect x="568.30" y="312.0" width="10.4" height="19.60" fill="#c5d89a"/><rect x="599.50" y="314.6" width="10.4" height="17.00" fill="#5a8f66"/><rect x="613.10" y="307.0" width="10.4" height="24.60" fill="#c5d89a"/><rect x="644.30" y="310.6" width="10.4" height="21.00" fill="#5a8f66"/><rect x="657.90" y="299.6" width="10.4" height="32.00" fill="#c5d89a"/><rect x="689.10" y="305.6" width="10.4" height="26.00" fill="#5a8f66"/><rect x="702.70" y="292.8" width="10.4" height="38.80" fill="#c5d89a"/><rect x="733.90" y="302.0" width="10.4" height="29.60" fill="#5a8f66"/><rect x="747.50" y="288.0" width="10.4" height="43.60" fill="#c5d89a"/><rect x="778.70" y="298.0" width="10.4" height="33.60" fill="#5a8f66"/><rect x="792.30" y="284.0" width="10.4" height="47.60" fill="#c5d89a"/><rect x="823.50" y="295.0" width="10.4" height="36.60" fill="#5a8f66"/><rect x="837.10" y="278.8" width="10.4" height="52.80" fill="#c5d89a"/><rect x="868.30" y="290.8" width="10.4" height="40.80" fill="#5a8f66"/><rect x="881.90" y="274.0" width="10.4" height="57.60" fill="#c5d89a"/><rect x="913.10" y="286.0" width="10.4" height="45.60" fill="#5a8f66"/><rect x="926.70" y="267.4" width="10.4" height="64.20" fill="#c5d89a"/><polyline points="432.10,329.0 476.90,325.0 521.70,320.4 566.50,315.0 611.30,310.0 656.10,303.6 700.90,297.4 745.70,292.4 790.50,286.0 835.30,281.0 880.10,275.6 924.90,267.0" fill="none" stroke="#e09a9a" stroke-width="0.6"/><path d="M430.90 329.0L432.10 328.0L433.30 329.0L432.10 330.0Z" fill="#8a6a70"/><path d="M475.70 325.0L476.90 324.0L478.10 325.0L476.90 326.0Z" fill="#8a6a70"/><path d="M520.50 320.4L521.70 319.4L522.90 320.4L521.70 321.4Z" fill="#8a6a70"/><path d="M565.30 315.0L566.50 314.0L567.70 315.0L566.50 316.0Z" fill="#8a6a70"/><path d="M610.10 310.0L611.30 309.0L612.50 310.0L611.30 311.0Z" fill="#8a6a70"/><path d="M654.90 303.6L656.10 302.6L657.30 303.6L656.10 304.6Z" fill="#8a6a70"/><path d="M699.70 297.4L700.90 296.4L702.10 297.4L700.90 298.4Z" fill="#8a6a70"/><path d="M744.50 292.4L745.70 291.4L746.90 292.4L745.70 293.4Z" fill="#8a6a70"/><path d="M789.30 286.0L790.50 285.0L791.70 286.0L790.50 287.0Z" fill="#8a6a70"/><path d="M834.10 281.0L835.30 280.0L836.50 281.0L835.30 282.0Z" fill="#8a6a70"/><path d="M878.90 275.6L880.10 274.6L881.30 275.6L880.10 276.6Z" fill="#8a6a70"/><path d="M923.70 267.0L924.90 266.0L926.10 267.0L924.90 268.0Z" fill="#8a6a70"/><circle cx="634.5" cy="343.3" r="1.25" fill="#5a8f66"/><circle cx="666.5" cy="343.3" r="1.25" fill="#c5d89a"/><line x1="700.6" y1="343.3" x2="704.8" y2="343.3" stroke="#e09a9a" stroke-width="0.5"/><path d="M701.5 343.3L702.7 342.3 703.9 343.3 702.7 344.3Z" fill="#8a6a70"/></svg>
<div class="c" style="left:432.10px;top:335.2px;font-size:2.9px;color:#555">janeiro</div>
<div class="c" style="left:476.90px;top:335.2px;font-size:2.9px;color:#555">fevereiro</div>
<div class="c" style="left:521.70px;top:335.2px;font-size:2.9px;color:#555">março</div>
<div class="c" style="left:566.50px;top:335.2px;font-size:2.9px;color:#555">abril</div>
<div class="c" style="left:611.30px;top:335.2px;font-size:2.9px;color:#555">maio</div>
<div class="c" style="left:656.10px;top:335.2px;font-size:2.9px;color:#555">junho</div>
<div class="c" style="left:700.90px;top:335.2px;font-size:2.9px;color:#555">julho</div>
<div class="c" style="left:745.70px;top:335.2px;font-size:2.9px;color:#555">agosto</div>
<div class="c" style="left:790.50px;top:335.2px;font-size:2.9px;color:#555">setembro</div>
<div class="c" style="left:835.30px;top:335.2px;font-size:2.9px;color:#555">outubro</div>
<div class="c" style="left:880.10px;top:335.2px;font-size:2.9px;color:#555">novembro</div>
<div class="c" style="left:924.90px;top:335.2px;font-size:2.9px;color:#555">dezembro</div>
<div class="a" style="left:405.3px;top:294px;font-size:3.2px;color:#555;transform:translate(-50%,-50%) rotate(-90deg)">Valores (R$)</div>
<div class="a" style="left:637.9px;top:342.6px;font-size:2.9px;color:#555">Receita Prevista</div>
<div class="a" style="left:669.9px;top:342.6px;font-size:2.9px;color:#555">Receita Arrecadada</div>
<div class="a" style="left:706px;top:342.6px;font-size:2.9px;color:#555">Despesa</div>

<!-- ============ ALERTS ============ -->
<div class="a" style="left:-4px;top:355.6px;width:960px;height:53px;background:#fff;box-shadow:0 1px 2px rgba(0,0,0,.3)"></div>
<div class="c" style="left:475.6px;top:359.8px;font-size:4.84px;color:#4a4a66">Alertas emitidos por assunto</div>
<div class="a" style="left:417.5px;top:370.2px;width:31.8px;height:33.2px;background:#e2f8fb;box-shadow:0 0.3px 1.2px rgba(0,0,0,.3);border-radius:0.5px"></div>
<div class="a" style="left:417.5px;top:387.4px;width:31.8px;height:16.0px;background:#d6ebee"></div>
<svg class="a" style="left:428px;top:374px" width="10" height="10" viewBox="0 0 10 10"><path d="M6.64 5.88L8.48 4.04 5.36 .92 3.52 2.76Z" fill="#333"/><path d="M5 4.4L1.6 7.6" stroke="#333" stroke-width="1.5" stroke-linecap="round"/></svg>
<div class="c" style="left:433.5px;top:391.0px;font-size:2.7px;color:#333;font-weight:normal">Cumprimento de</div>
<div class="c" style="left:433.5px;top:395.8px;font-size:2.7px;color:#333;font-weight:normal">Instruções do TCE</div>
<div class="c" style="left:433.5px;top:400.6px;font-size:2.7px;color:#333;font-weight:bold">14 alertas</div>
<div class="a" style="left:459.6px;top:370.2px;width:31.8px;height:33.2px;background:#e2f8fb;box-shadow:0 0.3px 1.2px rgba(0,0,0,.3);border-radius:0.5px"></div>
<div class="a" style="left:459.6px;top:388.9px;width:31.8px;height:14.5px;background:#d6ebee"></div>
<svg class="a" style="left:470.5px;top:374.8px" width="10" height="7.2" viewBox="0 0 10 7.2"><path d="M.3 2.4L5 .3 9.8 2.4 5 4Z" fill="#333"/><path d="M1.6 3.6L5 4.9 7.6 3.6V5.8C6.6 6.8 2.6 6.8 1.6 5.8Z" fill="#333"/><path d="M1 2.6V6.6" stroke="#333" stroke-width=".6"/></svg>
<div class="c" style="left:475.6px;top:392.9px;font-size:2.7px;color:#333;font-weight:normal">Ensino</div>
<div class="c" style="left:475.6px;top:397.6px;font-size:2.7px;color:#333;font-weight:bold">21 alertas</div>
<div class="a" style="left:502.5px;top:370.2px;width:31.8px;height:33.2px;background:#e2f8fb;box-shadow:0 0.3px 1.2px rgba(0,0,0,.3);border-radius:0.5px"></div>
<div class="a" style="left:502.5px;top:388.9px;width:31.8px;height:14.5px;background:#d6ebee"></div>
<svg class="a" style="left:513.3px;top:374.6px" width="9.4" height="8.2" viewBox="0 0 9.4 8.2"><path d="M.5 5.4H2.3L3.6 6H5.8L7.8 4.8C8.4 4.4 9 5 8.5 5.4L6.4 7.8H.5Z" fill="#333"/><path d="M5.3 1.7C5 1.1 3.7 1.1 3.7 1.9 3.7 2.6 5.3 2.4 5.3 3.2 5.3 3.9 4 3.9 3.6 3.4M4.5.4V4.4" stroke="#333" stroke-width=".6" fill="none"/></svg>
<div class="c" style="left:518.5px;top:392.9px;font-size:2.7px;color:#333;font-weight:normal">LRF</div>
<div class="c" style="left:518.5px;top:397.6px;font-size:2.7px;color:#333;font-weight:bold">9 alertas</div>

<!-- ============ BOTTOM ============ -->
<div class="card" style="left:-4px;top:413.5px;width:397.5px;height:33.3px"></div>
<div class="a" style="left:4.1px;top:415.6px;font-size:4.67px;color:#444">Contas</div>
<div class="a" style="left:113.1px;top:422.9px;width:0.9px;height:20px;background:#4a6f9a"></div>
<div class="a" style="left:116.8px;top:424.7px;font-size:3.75px;color:#3a3a4a;line-height:5.1px"><span style="font-size:4.1px">Prefeitura Municipal</span><br>TC: <span style="color:#4a6af0;">4085/989/22</span><br><span style="font-size:3.8px">Relator: Dr. Edgard Camargo Rodrigues</span></div>
<div class="a" style="left:200.9px;top:422.9px;width:0.9px;height:20px;background:#7d95b0"></div>
<div class="a" style="left:204.6px;top:424.7px;font-size:3.75px;color:#3a3a4a;line-height:5.1px"><span style="font-size:4.1px">Câmara Municipal</span><br>TC: <span style="color:#4a6af0;">4482/989/22</span><br><span style="font-size:3.8px">Relator: Dr. Edgard Camargo Rodrigues</span></div>
<div class="a" style="left:123.4px;top:434px;width:20.3px;height:1px;background:rgba(74,106,240,.45)"></div>
<div class="a" style="left:211.2px;top:434px;width:20.3px;height:1px;background:rgba(74,106,240,.45)"></div>
<div class="card" style="left:397.4px;top:413.8px;width:560px;height:34.8px"></div>
<div class="c" style="left:675px;top:415.6px;font-size:4.65px;color:#3e3e5e">Pareceres</div>
<div class="c" style="left:675px;top:422.6px;font-size:3.2px;color:#555">Dados informados até 04/2023</div>
<div class="c" style="left:514.9px;top:428.6px;font-size:3.2px;color:#aaa">2015</div>
<svg class="a" style="left:511.2px;top:434.2px" width="7.2" height="6.5" viewBox="0 0 7.2 6.5"><rect x="0" y="2.7" width="1.6" height="3.6" fill="#6abf4b"/><path d="M2.1 2.7L3.5.2C4.2.2 4.6.7 4.5 1.3L4.2 2.5H6.3C6.8 2.5 7.1 2.9 7 3.4L6.4 5.9C6.3 6.2 6.1 6.4 5.8 6.4H2.1Z" fill="#6abf4b"/></svg>
<div class="c" style="left:578.8px;top:428.6px;font-size:3.2px;color:#aaa">2017</div>
<svg class="a" style="left:575.1px;top:434.1px" width="7.2" height="6.5" viewBox="0 0 7.2 6.5"><g transform="translate(0 6.5) scale(1 -1)"><rect x="0" y="2.7" width="1.6" height="3.6" fill="#f0454a"/><path d="M2.1 2.7L3.5.2C4.2.2 4.6.7 4.5 1.3L4.2 2.5H6.3C6.8 2.5 7.1 2.9 7 3.4L6.4 5.9C6.3 6.2 6.1 6.4 5.8 6.4H2.1Z" fill="#f0454a"/></g></svg>
<div class="c" style="left:642.7px;top:428.6px;font-size:3.2px;color:#aaa">2018</div>
<svg class="a" style="left:639.0px;top:434.2px" width="7.2" height="6.5" viewBox="0 0 7.2 6.5"><rect x="0" y="2.7" width="1.6" height="3.6" fill="#6abf4b"/><path d="M2.1 2.7L3.5.2C4.2.2 4.6.7 4.5 1.3L4.2 2.5H6.3C6.8 2.5 7.1 2.9 7 3.4L6.4 5.9C6.3 6.2 6.1 6.4 5.8 6.4H2.1Z" fill="#6abf4b"/></svg>
<div class="c" style="left:706.9px;top:428.6px;font-size:3.2px;color:#aaa">2019</div>
<svg class="a" style="left:703.2px;top:434.2px" width="7.2" height="6.5" viewBox="0 0 7.2 6.5"><rect x="0" y="2.7" width="1.6" height="3.6" fill="#6abf4b"/><path d="M2.1 2.7L3.5.2C4.2.2 4.6.7 4.5 1.3L4.2 2.5H6.3C6.8 2.5 7.1 2.9 7 3.4L6.4 5.9C6.3 6.2 6.1 6.4 5.8 6.4H2.1Z" fill="#6abf4b"/></svg>
<div class="c" style="left:771.1px;top:428.6px;font-size:3.2px;color:#aaa">2020</div>
<svg class="a" style="left:767.4px;top:434.2px" width="7.2" height="6.5" viewBox="0 0 7.2 6.5"><rect x="0" y="2.7" width="1.6" height="3.6" fill="#6abf4b"/><path d="M2.1 2.7L3.5.2C4.2.2 4.6.7 4.5 1.3L4.2 2.5H6.3C6.8 2.5 7.1 2.9 7 3.4L6.4 5.9C6.3 6.2 6.1 6.4 5.8 6.4H2.1Z" fill="#6abf4b"/></svg>
<div class="c" style="left:835.1px;top:428.6px;font-size:3.2px;color:#aaa">2021</div>
<svg class="a" style="left:831.4px;top:434.2px" width="7.2" height="6.5" viewBox="0 0 7.2 6.5"><rect x="0" y="2.7" width="1.6" height="3.6" fill="#6abf4b"/><path d="M2.1 2.7L3.5.2C4.2.2 4.6.7 4.5 1.3L4.2 2.5H6.3C6.8 2.5 7.1 2.9 7 3.4L6.4 5.9C6.3 6.2 6.1 6.4 5.8 6.4H2.1Z" fill="#6abf4b"/></svg>
</body></html>
